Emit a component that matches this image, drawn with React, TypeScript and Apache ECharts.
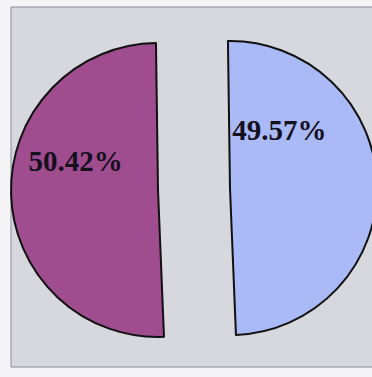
import React, { useEffect, useRef } from "react";
import * as echarts from "echarts";

const categories = ["B", "A"];
const values = [49.57, 50.42];
const colors = ["#AABAF6", "#A04D90"];

export default function App() {
  const ref = useRef<HTMLDivElement>(null);
  useEffect(() => {
    if (!ref.current) return;
    const chart = echarts.init(ref.current, null, { renderer: "svg" });
    const labelShift = [
      { dx: -27, dy: -56 },
      { dx: -6, dy: -31 },
    ];
    chart.setOption({
      animation: false,
      backgroundColor: "#F4F4F6",
      graphic: [
        {
          type: "rect",
          z: -10,
          shape: { x: 11, y: 7, width: 370, height: 360 },
          style: { fill: "#D7D8DE", stroke: "#8A8A90", lineWidth: 1 },
        },
      ],
      series: [
        {
          type: "pie",
          center: [194, 189],
          radius: [0, 147],
          startAngle: 90.8,
          clockwise: true,
          selectedMode: "multiple",
          selectedOffset: 36,
          emphasis: { disabled: true },
          itemStyle: { borderColor: "#111111", borderWidth: 2 },
          label: {
            show: true,
            position: "inside",
            formatter: (p: any) => p.value.toFixed(2) + "%",
            fontFamily: "Liberation Serif",
            fontWeight: "bold",
            fontSize: 29,
            color: "#15101E",
          },
          labelLayout: (p: any) => labelShift[p.dataIndex],
          labelLine: { show: false },
          data: categories.map((c, i) => ({
            name: c,
            value: values[i],
            selected: true,
            itemStyle: { color: colors[i] },
          })),
        },
      ],
    });
    return () => chart.dispose();
  }, []);
  return (
    <div
      ref={ref}
      style={{ position: "fixed", left: 0, top: 0, width: 372, height: 377 }}
    />
  );
}
